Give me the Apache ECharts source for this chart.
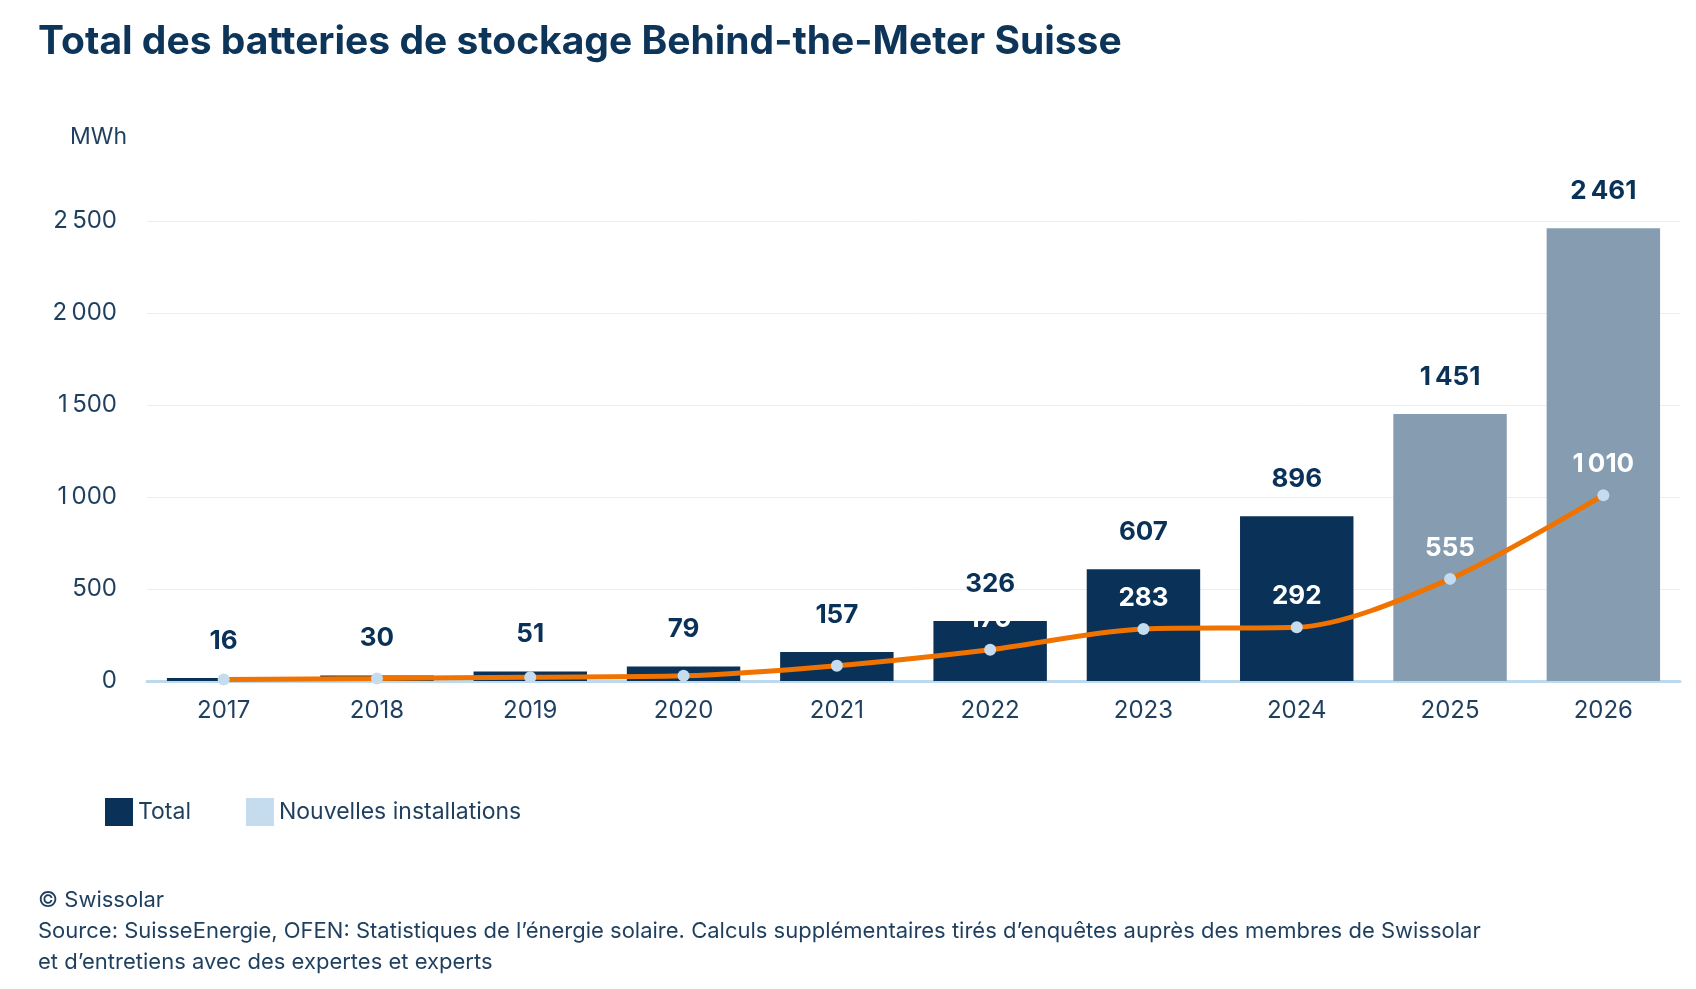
<!DOCTYPE html>
<html><head><meta charset="utf-8">
<script src="https://cdn.jsdelivr.net/npm/echarts@6/dist/echarts.min.js"></script>
<style>html,body{margin:0;padding:0;background:#fff}#c{width:1696px;height:989px}</style>
</head><body><div id="c"></div>
<script>
const years = ['2017','2018','2019','2020','2021','2022','2023','2024','2025','2026'];
const totals = [16,30,51,79,157,326,607,896,1451,2461];
const newInst = [8,14,21,28,83,170,283,292,555,1010];
const newLabelShown = [false,false,false,false,false,true,true,true,true,true];
const growth = [null,null,null,null,null,null,null,null,'+90 %','+82 %'];
const yTicks = [0,500,1000,1500,2000,2500];

const navy='#0a3157', grey='#869cb0', orange='#f07300', dot='#c5dcef';
const font='Inter';
const fmt = v => String(v).replace(/\B(?=(\d{3})+(?!\d))/g,'\u2009');

const chart = echarts.init(document.getElementById('c'));
chart.setOption({
  animation:false,
  textStyle:{fontFamily:font},
  title:[
    {text:'Total des batteries de stockage Behind-the-Meter Suisse',left:33,top:18,
     textStyle:{fontSize:39,fontWeight:'bold',color:'#0d3559',fontFamily:font}},
    {text:'© Swissolar\nSource: SuisseEnergie, OFEN: Statistiques de l’énergie solaire. Calculs supplémentaires tirés d’enquêtes auprès des membres de Swissolar\net d’entretiens avec des expertes et experts',
     left:33,top:880,textStyle:{fontSize:22,fontWeight:'normal',color:'#1f3f5f',lineHeight:31,fontFamily:font}}
  ],
  legend:{data:['Total','Nouvelles installations'],left:100,top:793,itemWidth:28,itemHeight:28,itemGap:55,icon:'rect',
    textStyle:{fontSize:23,color:'#1f3f5f',fontFamily:font}},
  grid:{left:147,right:16,top:221,bottom:308},
  xAxis:{type:'category',data:years,
    axisLine:{lineStyle:{color:'#bcd9ee',width:3}},axisTick:{show:false},
    axisLabel:{fontSize:24,color:'#1f3f5f',margin:18}},
  yAxis:{type:'value',min:0,max:2500,interval:500,
    name:'MWh',nameLocation:'end',nameGap:72,
    nameTextStyle:{fontSize:23,color:'#1f3f5f',align:'right',padding:[0,20,0,0]},
    axisLabel:{fontSize:24,color:'#1f3f5f',margin:30,formatter:v=>yTicks.includes(v)?fmt(v):''},
    splitLine:{lineStyle:{color:'#e6eff6',width:1}}},
  series:[
    {name:'Total',type:'bar',barWidth:'74%',itemStyle:{color:navy},
     data:totals.map((v,i)=>({value:v,itemStyle:{color:i>=8?grey:navy}})),
     label:{show:true,position:'top',distance:24,fontSize:26,fontWeight:'bold',color:navy,formatter:p=>fmt(p.value)}},
    {name:'Nouvelles installations',type:'line',smooth:0.3,z:5,
     lineStyle:{color:orange,width:5},itemStyle:{color:dot,borderWidth:0},color:orange,
     symbol:'circle',symbolSize:12,
     data:newInst.map((v,i)=>({value:v,label:{show:newLabelShown[i]}})),
     label:{position:'top',distance:12,fontSize:26,fontWeight:'bold',color:'#ffffff',formatter:p=>fmt(p.value)}},
    {name:'growth',type:'line',symbol:'none',lineStyle:{opacity:0},silent:true,z:6,
     data:newInst.map((v,i)=>growth[i]?{value:v,label:{show:true,formatter:growth[i]}}:{value:null}),
     label:{position:'left',offset:[-5,-15],fontSize:26,fontWeight:'bold',color:orange}}
  ]
});
</script></body></html>
